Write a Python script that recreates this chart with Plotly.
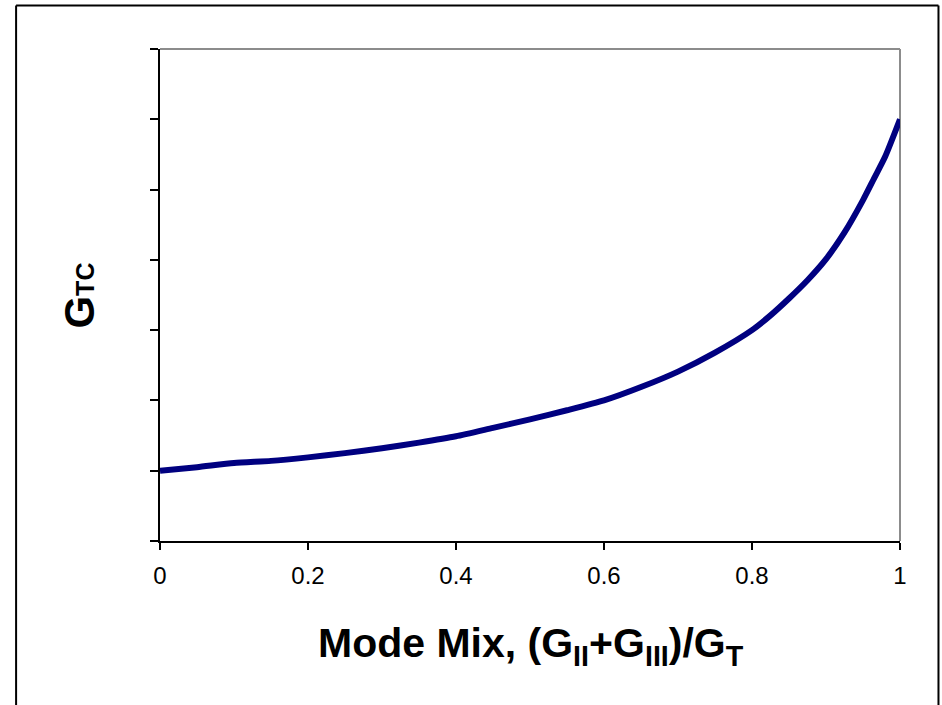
import plotly.graph_objects as go

# Total critical energy release rate vs. mode mix
mode_mix = [0.0, 0.05, 0.10, 0.15, 0.20, 0.25, 0.30, 0.35, 0.40, 0.45, 0.50,
            0.55, 0.60, 0.65, 0.70, 0.75, 0.80, 0.825, 0.85, 0.875, 0.90,
            0.925, 0.95, 0.965, 0.98, 1.0]
g_tc = [1.00, 1.05, 1.11, 1.14, 1.19, 1.25, 1.32, 1.40, 1.49, 1.61, 1.73,
        1.86, 2.00, 2.19, 2.41, 2.68, 3.00, 3.21, 3.45, 3.71, 4.01,
        4.39, 4.85, 5.16, 5.47, 6.00]

x_ticks = [0, 0.2, 0.4, 0.6, 0.8, 1]
x_tick_text = ["0", "0.2", "0.4", "0.6", "0.8", "1"]
y_ticks = [0, 1, 2, 3, 4, 5, 6, 7]

W, H = 942, 705
L, R, T, B = 159.5, 42, 49, 164
pw, ph = W - L - R, H - T - B


def px_x(p):
    return (p - L) / pw


def px_y(p):
    return (H - B - p) / ph


fig = go.Figure()
fig.add_trace(go.Scatter(
    x=mode_mix, y=g_tc, mode="lines",
    line=dict(color="#000080", width=6, shape="spline", smoothing=0.6),
    hoverinfo="skip", showlegend=False,
))

font = "Liberation Sans, Arial, sans-serif"

fig.update_layout(
    width=W, height=H,
    margin=dict(l=L, r=R, t=T, b=B, pad=0),
    paper_bgcolor="white", plot_bgcolor="white",
    font=dict(family=font, color="black"),
    xaxis=dict(range=[0, 1], tickvals=x_ticks, ticktext=x_tick_text,
               showgrid=False, zeroline=False, showline=True,
               linecolor="black", linewidth=1.5, ticks="outside",
               ticklen=7, tickcolor="black", tickwidth=1.5,
               ticklabelstandoff=5,
               tickfont=dict(size=24, family=font, color="black")),
    yaxis=dict(range=[0, 7], tickvals=y_ticks, showticklabels=False,
               showgrid=False, zeroline=False, showline=True,
               linecolor="black", linewidth=1.5, ticks="outside",
               ticklen=8, tickcolor="black", tickwidth=1.5),
    shapes=[
        # grey top and right borders of the plot area
        dict(type="line", xref="paper", yref="paper", x0=0, x1=1, y0=1, y1=1,
             line=dict(color="#8c8c8c", width=2), layer="below"),
        dict(type="line", xref="paper", yref="paper", x0=1, x1=1, y0=0, y1=1,
             line=dict(color="#8c8c8c", width=2), layer="below"),
        # outer chart frame
        dict(type="line", xref="paper", yref="paper",
             x0=px_x(15.5), x1=px_x(15.5), y0=px_y(5.5), y1=px_y(720),
             line=dict(color="black", width=2)),
        dict(type="line", xref="paper", yref="paper",
             x0=px_x(15.5), x1=px_x(938.5), y0=px_y(5.5), y1=px_y(5.5),
             line=dict(color="black", width=2)),
        dict(type="line", xref="paper", yref="paper",
             x0=px_x(938.5), x1=px_x(938.5), y0=px_y(5.5), y1=px_y(720),
             line=dict(color="black", width=2)),
    ],
    annotations=[
        dict(text="<b>Mode Mix, (G<sub>II</sub>+G<sub>III</sub>)/G<sub>T</sub></b>",
             xref="paper", yref="paper", x=px_x(531), y=px_y(646),
             xanchor="center", yanchor="middle", showarrow=False,
             font=dict(size=41, family=font, color="black")),
        dict(text='<b>G<span style="font-size:25px">TC</span></b>',
             xref="paper", yref="paper", x=px_x(78), y=px_y(296),
             xanchor="center", yanchor="middle", showarrow=False, textangle=-90,
             font=dict(size=42, family=font, color="black")),
    ],
)

fig.write_html("out.html")
